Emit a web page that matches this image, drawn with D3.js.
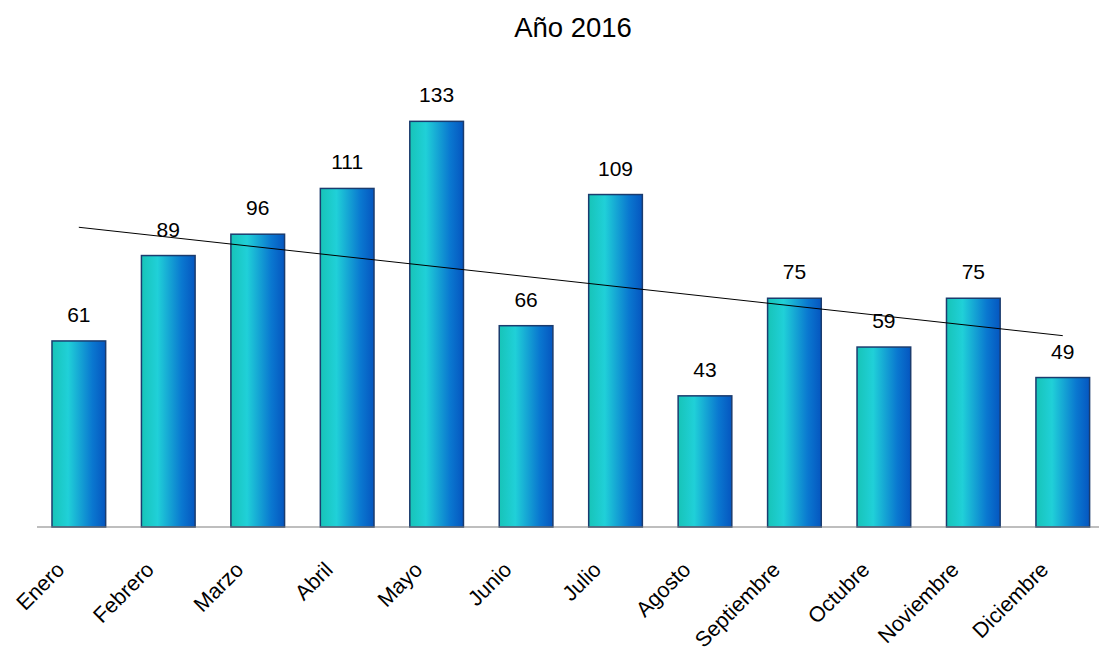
<!DOCTYPE html>
<html>
<head>
<meta charset="utf-8">
<script src="https://cdn.jsdelivr.net/npm/d3@7"></script>
<style>
  body { margin: 0; background: #fff; }
  text { font-family: "Liberation Sans", Arial, sans-serif; }
</style>
</head>
<body>
<div id="chart"></div>
<script>
var meses = ["Enero","Febrero","Marzo","Abril","Mayo","Junio","Julio","Agosto","Septiembre","Octubre","Noviembre","Diciembre"];
var valores = [61, 89, 96, 111, 133, 66, 109, 43, 75, 59, 75, 49];
var titulo = "Año 2016";

var width = 1099, height = 654;

var svg = d3.select("#chart").append("svg")
    .attr("width", width)
    .attr("height", height);

// gradiente de las barras
var grad = svg.append("defs").append("linearGradient")
    .attr("id", "barGrad")
    .attr("x1", "0%").attr("x2", "100%")
    .attr("y1", "0%").attr("y2", "0%");
grad.append("stop").attr("offset", "0%").attr("stop-color", "#17c4b8");
grad.append("stop").attr("offset", "30%").attr("stop-color", "#20d0d8");
grad.append("stop").attr("offset", "75%").attr("stop-color", "#0a78d0");
grad.append("stop").attr("offset", "100%").attr("stop-color", "#0556c0");

var x = d3.scaleBand()
    .domain(meses)
    .range([34.1, 1107.5])
    .paddingInner(0.4)
    .paddingOuter(0.2);

var y = d3.scaleLinear()
    .domain([0, 140])
    .range([527, 100]);

// titulo
svg.append("text")
    .attr("x", 573)
    .attr("y", 37)
    .attr("text-anchor", "middle")
    .attr("font-size", "27.5px")
    .attr("fill", "#000")
    .text(titulo);

// barras
svg.selectAll("rect.bar")
    .data(valores)
    .enter()
    .append("rect")
    .attr("class", "bar")
    .attr("x", function(d, i) { return x(meses[i]); })
    .attr("y", function(d) { return y(d); })
    .attr("width", x.bandwidth())
    .attr("height", function(d) { return y(0) - y(d); })
    .attr("fill", "url(#barGrad)")
    .attr("stroke", "#1b3c6e")
    .attr("stroke-width", 1.5);

// eje
svg.append("line")
    .attr("x1", 37).attr("x2", width)
    .attr("y1", y(0)).attr("y2", y(0))
    .attr("stroke", "#7f7f7f")
    .attr("stroke-width", 1.2);

// etiquetas de valor
svg.selectAll("text.val")
    .data(valores)
    .enter()
    .append("text")
    .attr("class", "val")
    .attr("x", function(d, i) { return x(meses[i]) + x.bandwidth() / 2; })
    .attr("y", function(d) { return y(d) - 19; })
    .attr("text-anchor", "middle")
    .attr("font-size", "21px")
    .attr("fill", "#000")
    .text(function(d) { return d; });

// linea de tendencia (regresion lineal)
var n = valores.length;
var mx = (n + 1) / 2, my = d3.mean(valores);
var sxy = 0, sxx = 0;
valores.forEach(function(v, i) {
    sxy += (i + 1 - mx) * (v - my);
    sxx += (i + 1 - mx) * (i + 1 - mx);
});
var slope = sxy / sxx;
var icpt = my - slope * mx;
var trend = [1, n].map(function(k) { return { m: meses[k - 1], v: icpt + slope * k }; });

svg.append("path")
    .datum(trend)
    .attr("fill", "none")
    .attr("stroke", "#000")
    .attr("stroke-width", 1)
    .attr("d", d3.line()
        .x(function(d) { return x(d.m) + x.bandwidth() / 2; })
        .y(function(d) { return y(d.v); }));

// etiquetas de meses
svg.selectAll("text.mes")
    .data(meses)
    .enter()
    .append("text")
    .attr("class", "mes")
    .attr("transform", function(d) {
        return "translate(" + (x(d) + x.bandwidth() / 2 - 13) + "," + 571 + ") rotate(-45)";
    })
    .attr("text-anchor", "end")
    .attr("font-size", "21.5px")
    .attr("fill", "#000")
    .text(function(d) { return d; });
</script>
</body>
</html>
